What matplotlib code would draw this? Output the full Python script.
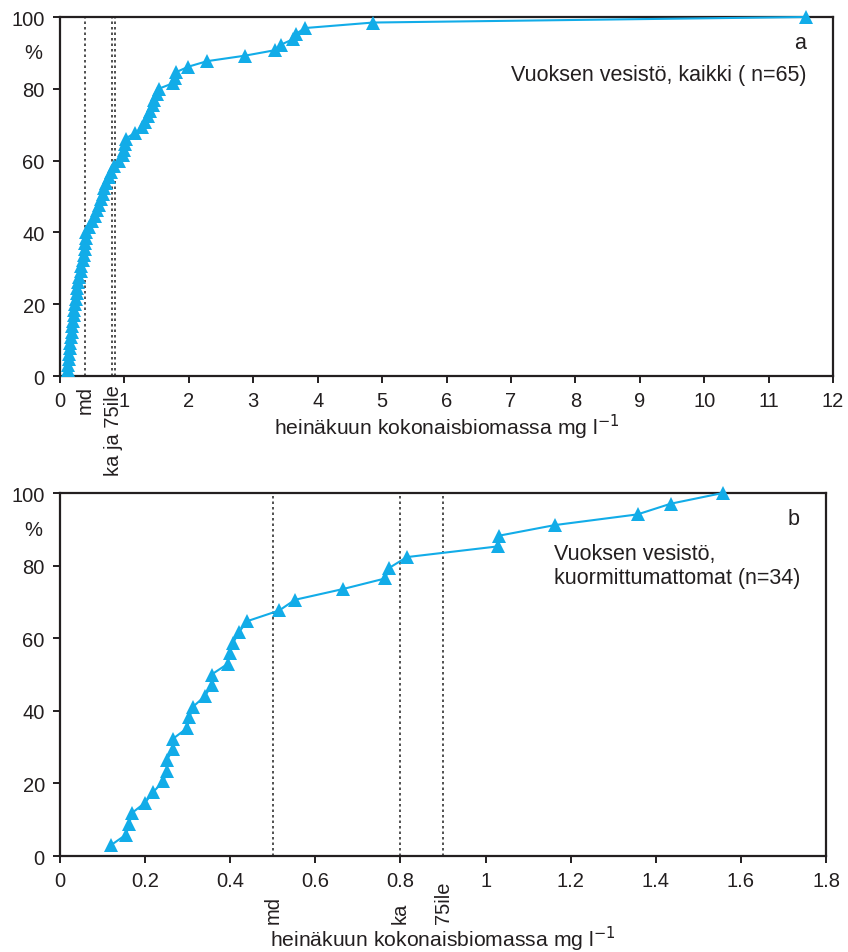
import numpy as np
import matplotlib
matplotlib.use("Agg")
import matplotlib.pyplot as plt
import matplotlib.transforms as mtransforms

plt.rcParams['font.family'] = ['Liberation Sans', 'DejaVu Sans']

# Panel a: all sites (n=65), cumulative share (%) vs total biomass (mg/l)
biomass_all = [0.12, 0.13, 0.14, 0.14, 0.15, 0.16, 0.17, 0.18, 0.19, 0.20,
               0.21, 0.22, 0.24, 0.25, 0.26, 0.27, 0.28, 0.30, 0.32, 0.33,
               0.35, 0.37, 0.38, 0.39, 0.40, 0.41, 0.45, 0.50, 0.54, 0.57,
               0.60, 0.63, 0.66, 0.69, 0.72, 0.76, 0.79, 0.84, 0.92, 0.98,
               1.00, 1.01, 1.02, 1.16, 1.28, 1.32, 1.36, 1.40, 1.44, 1.46,
               1.50, 1.53, 1.75, 1.78, 1.80, 1.99, 2.28, 2.87, 3.34, 3.43,
               3.62, 3.67, 3.80, 4.86, 11.58]
share_all = [100.0 * (i + 1) / len(biomass_all) for i in range(len(biomass_all))]
stats_all = {"md": 0.39, "ka": 0.81, "75ile": 0.85}

# Panel b: unloaded sites (n=34)
biomass_clean = [0.119, 0.155, 0.163, 0.168, 0.200, 0.219, 0.243, 0.251, 0.251, 0.266,
                 0.266, 0.299, 0.304, 0.313, 0.341, 0.356, 0.356, 0.394, 0.399, 0.407,
                 0.421, 0.440, 0.515, 0.552, 0.664, 0.764, 0.774, 0.815, 1.028, 1.031,
                 1.163, 1.357, 1.435, 1.557]
share_clean = [100.0 * (i + 1) / len(biomass_clean) for i in range(len(biomass_clean))]
stats_clean = {"md": 0.5, "ka": 0.8, "75ile": 0.9}

xticks_a = list(range(0, 13))
xticks_b = [0, 0.2, 0.4, 0.6, 0.8, 1.0, 1.2, 1.4, 1.6, 1.8]
yticks = [0, 20, 40, 60, 80, 100]

LINE = '#12ACE8'
TXT = '#231F20'
XLABEL = 'heinäkuun kokonaisbiomassa mg l$^{-1}$'

fig = plt.figure(figsize=(8.48, 9.53), dpi=100)
ax_a = fig.add_axes([0.0708, 0.6044, 0.9116, 0.3767])
ax_b = fig.add_axes([0.0708, 0.1007, 0.9033, 0.3809])


def style(ax, xticks, xmax):
    ax.set_xlim(0, xmax)
    ax.set_ylim(0, 100)
    ax.set_xticks(xticks)
    ax.set_xticklabels(['%g' % t for t in xticks])
    ax.set_yticks(yticks)
    for s in ax.spines.values():
        s.set_color('#231F20')
        s.set_linewidth(1.6)
    ax.tick_params(direction='out', length=5, width=1.4, colors=TXT,
                   labelsize=14.5, pad=6)
    ax.set_xlabel(XLABEL, fontsize=15.2, color=TXT)
    tr = mtransforms.blended_transform_factory(ax.transAxes, ax.transData)
    ax.text(-0.035, 90, '%', transform=tr, ha='center', va='center',
            fontsize=14.5, color=TXT)


# --- panel a ---
style(ax_a, xticks_a, 12)
for key in ("md", "ka", "75ile"):
    ax_a.axvline(stats_all[key], color='#333333', lw=1.2, ls=(0, (1.5, 1.8)))
ax_a.plot(biomass_all, share_all, color=LINE, lw=1.5, marker='^',
          markersize=10, markeredgewidth=0, zorder=3, clip_on=False)
ta = mtransforms.blended_transform_factory(ax_a.transData, ax_a.transAxes)
ax_a.text(stats_all["md"], -0.024, 'md', transform=ta, rotation=90,
          ha='center', va='top', fontsize=14.5, color=TXT)
ax_a.text((stats_all["ka"] + stats_all["75ile"]) / 2, -0.024, 'ka ja 75ile',
          transform=ta, rotation=90, ha='center', va='top', fontsize=14.5, color=TXT)
ax_a.xaxis.set_label_coords(0.5, -0.10)
ax_a.text(0.965, 0.93, 'a', transform=ax_a.transAxes, ha='right', va='center',
          fontsize=15.5, color=TXT)
ax_a.text(0.965, 0.84, 'Vuoksen vesistö, kaikki ( n=65)', transform=ax_a.transAxes,
          ha='right', va='center', fontsize=15.5, color=TXT)

# --- panel b ---
style(ax_b, xticks_b, 1.8)
for key in ("md", "ka", "75ile"):
    ax_b.axvline(stats_clean[key], color='#333333', lw=1.2, ls=(0, (1.5, 1.8)))
ax_b.plot(biomass_clean, share_clean, color=LINE, lw=1.5, marker='^',
          markersize=10, markeredgewidth=0, zorder=3, clip_on=False)
tb = mtransforms.blended_transform_factory(ax_b.transData, ax_b.transAxes)
for key in ("md", "ka", "75ile"):
    ax_b.text(stats_clean[key], -0.185, key, transform=tb, rotation=90,
              ha='center', va='bottom', fontsize=14.5, color=TXT)
ax_b.xaxis.set_label_coords(0.5, -0.187)
ax_b.text(0.965, 0.93, 'b', transform=ax_b.transAxes, ha='right', va='center',
          fontsize=15.5, color=TXT)
ax_b.text(0.645, 0.80, 'Vuoksen vesistö,\nkuormittumattomat (n=34)',
          transform=ax_b.transAxes, ha='left', va='center', fontsize=15.5,
          color=TXT, linespacing=1.2)

fig.savefig('out.png', dpi=100)
